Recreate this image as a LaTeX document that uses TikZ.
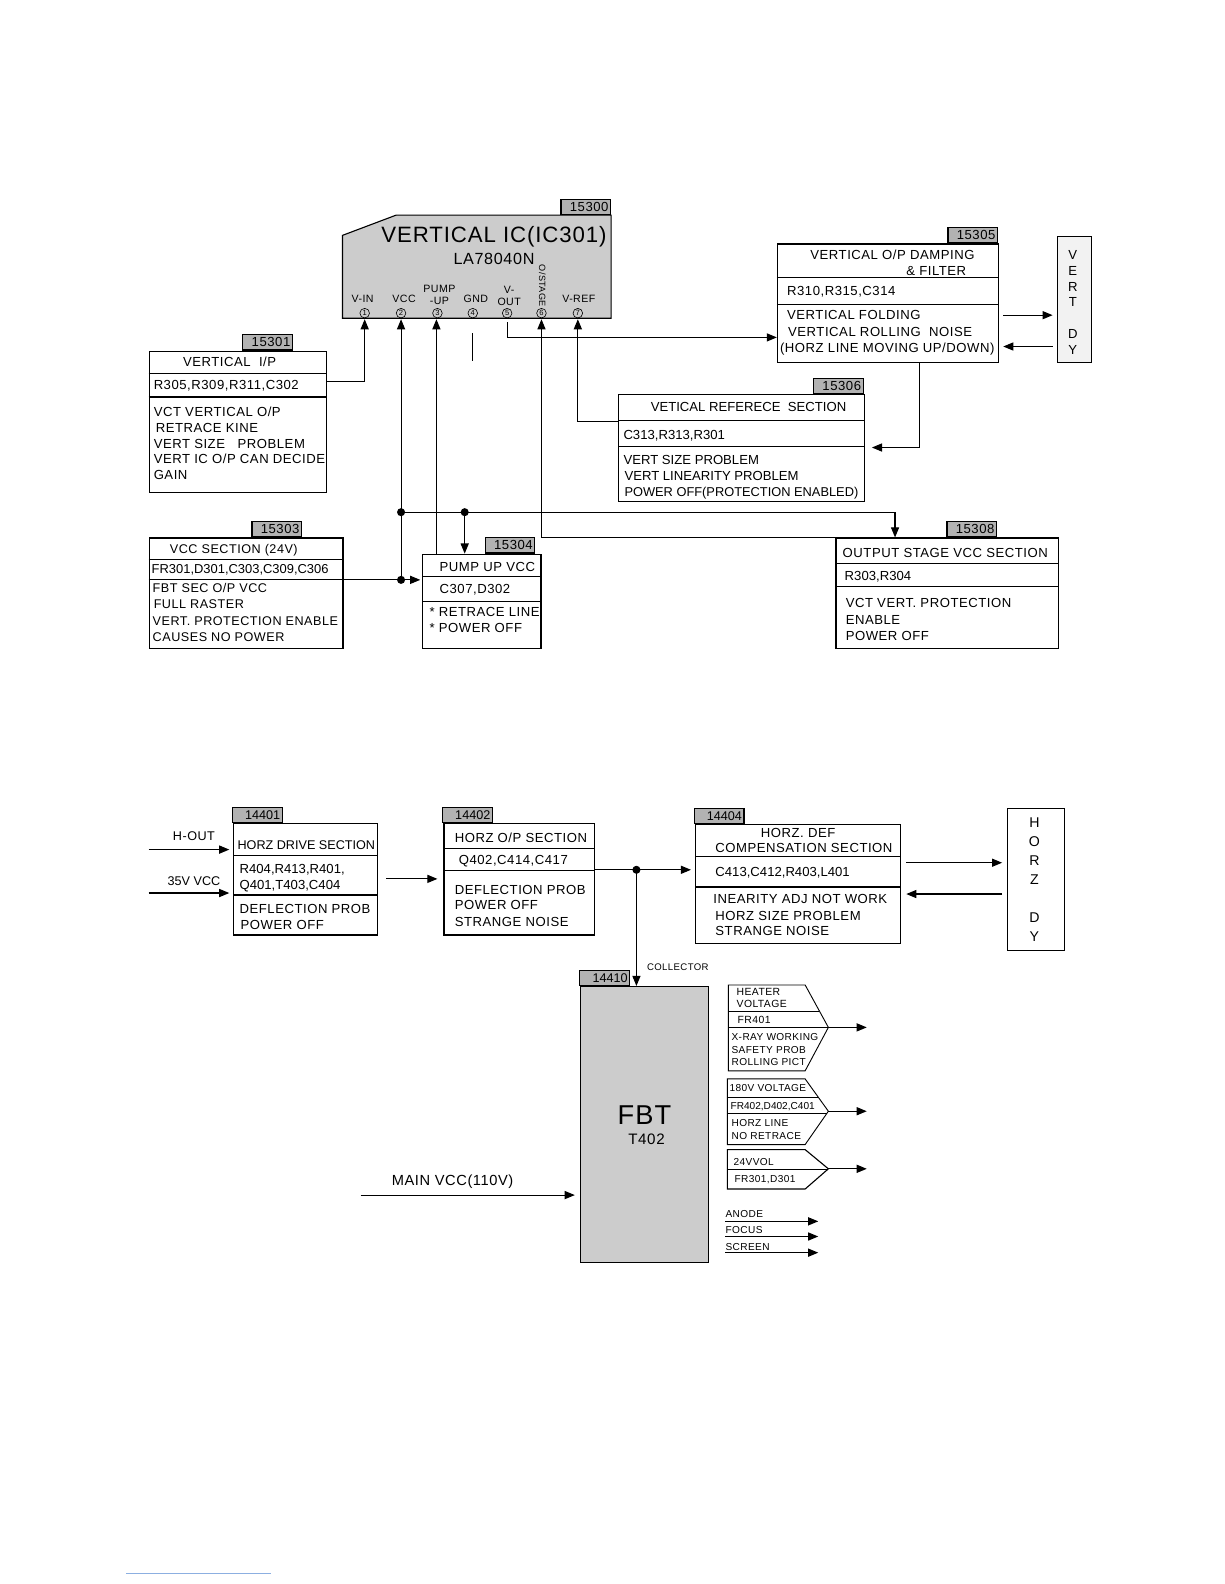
\documentclass[tikz,border=0pt]{standalone}
\usepackage{fontspec}
\setmainfont{Liberation Sans}[LetterSpace=4]
\newfontfamily\arfont{Liberation Sans}
\usetikzlibrary{arrows.meta,calc}
\definecolor{taggray}{RGB}{178,178,178}
\definecolor{icgray}{RGB}{204,204,204}
\definecolor{fbtgray}{RGB}{204,204,204}
\definecolor{dygray}{RGB}{242,242,242}
\definecolor{pageline}{RGB}{140,175,225}
\newcommand\Tl[4]{\node[txt] (#1) at (#2,#3) {#4};}
\newcommand\Ts[4]{\node[stx] (#1) at (#2,#3) {#4};}
\begin{document}
\begin{tikzpicture}[x=1pt,y=-1pt,
  bx/.style={draw, line width=1.1pt, inner sep=0pt, anchor=north west},
  tagbox/.style={draw, line width=1.2pt, fill=taggray, inner sep=0pt, anchor=south east, minimum width=49pt, minimum height=15pt, text width=45pt, align=right, font=\fontsize{13}{13}\selectfont},
  txt/.style={anchor=base west, inner sep=0pt, yshift=-4.7pt, font=\fontsize{13}{15}\selectfont},
  stx/.style={anchor=base west, inner sep=0pt, yshift=-3.7pt, font=\fontsize{10.3}{12}\selectfont},
  ln/.style={line width=1.1pt},
  arr/.style={line width=1.1pt, -{Triangle[length=10pt,width=8pt]}},
  dot/.style={circle, fill=black, inner sep=0pt, minimum size=8pt},
  pinl/.style={inner sep=0pt, font=\fontsize{10.5}{12}\selectfont, align=center},
  cnum/.style={circle, draw, line width=0.6pt, inner sep=0pt, minimum size=9.5pt, font=\arfont\fontsize{7.5}{7.5}\selectfont},
  dyl/.style={inner sep=0pt, font=\fontsize{13}{13}\selectfont},
]
\useasboundingbox (0,0) rectangle (1212,1568);

% ================= VERTICAL IC =================
\draw[ln, fill=icgray] (339,233) -- (392,213) -- (605,213) -- (605,315) -- (339,315) -- cycle;
\node[tagbox] (tg300) at (605,213) {15300};
\node[inner sep=0pt, font=\fontsize{22}{22}\selectfont] (ictitle) at (489,234) {VERTICAL IC(IC301)};
\node[inner sep=0pt, font=\fontsize{16}{16}\selectfont] (icpart) at (489,256) {LA78040N};
\node[pinl] (lvin) at (359,296) {V-IN};
\node[pinl] (lvcc) at (400,296) {VCC};
\node[pinl] (lpump) at (435,292) {PUMP\\-UP};
\node[pinl] (lgnd) at (471,296) {GND};
\node[pinl] (lvout) at (504,293) {V-\\OUT};
\node[pinl, rotate=-90, font=\fontsize{9}{9}\selectfont] (lost) at (537,283) {O/STAGE};
\node[pinl] (lvref) at (573,296) {V-REF};
\node[cnum] (n1) at (361,310) {1};
\node[cnum] (n2) at (397,310) {2};
\node[cnum] (n3) at (433,310) {3};
\node[cnum] (n4) at (468,310) {4};
\node[cnum] (n5) at (502,310) {5};
\node[cnum] (n6) at (536,310) {6};
\node[cnum] (n7) at (572,310) {7};
\coordinate (pin1) at (361,316);
\coordinate (pin2) at (397,316);
\coordinate (pin3) at (432,316);
\coordinate (pin4) at (468,330);
\coordinate (pin5) at (502,319);
\coordinate (pin6) at (536,316);
\coordinate (pin7) at (572,316);
\coordinate (gnd) at (468,357);

% ================= 15301 =================
\node[tagbox] (tg301) at (290,347) {15301};
\node[bx, minimum width=176pt, minimum height=140pt] (b15301) at (147,347) {};
\draw[ln] (147,370) -- (323,370) (147,393) -- (323,393);
\Tl{a1}{181}{358}{VERTICAL~ I/P}
\Tl{a2}{152}{381}{R305,R309,R311,C302}
\Tl{a3}{152}{408}{VCT VERTICAL O/P}
\Tl{a4}{154}{423}{RETRACE KINE}
\Tl{a5}{152}{439}{VERT SIZE~~ PROBLEM}
\Tl{a6}{152}{454}{VERT IC O/P CAN DECIDE}
\Tl{a7}{152}{470}{GAIN}

% ================= 15305 =================
\node[tagbox] (tg305) at (988,241) {15305};
\node[bx, minimum width=219pt, minimum height=117pt] (b15305) at (769,241) {};
\draw[ln] (769,275) -- (988,275) (769,301) -- (988,301);
\Tl{c1}{802}{252}{VERTICAL O/P DAMPING}
\Tl{c2}{897}{268}{\& FILTER}
\Tl{c3}{779}{288}{R310,R315,C314}
\Tl{c4}{779}{312}{VERTICAL FOLDING}
\Tl{c5}{780}{328}{VERTICAL ROLLING~ NOISE}
\Tl{c6}{772}{344}{(HORZ LINE MOVING UP/DOWN)}

% VERT DY
\node[bx, fill=dygray, line width=0.8pt, minimum width=34pt, minimum height=124pt] (vdy) at (1046,234) {};
\node[dyl] (v1) at (1062,252) {V};
\node[dyl] (v2) at (1062,268) {E};
\node[dyl] (v3) at (1062,284) {R};
\node[dyl] (v4) at (1062,299) {T};
\node[dyl] (v5) at (1062,331) {D};
\node[dyl] (v6) at (1062,346) {Y};

% ================= 15306 =================
\node[tagbox] (tg306) at (855,390) {15306};
\node[bx, minimum width=243pt, minimum height=106pt] (b15306) at (612,390) {};
\draw[ln] (612,416) -- (855,416) (612,442) -- (855,442);
\node[txt, font=\arfont\fontsize{13}{15}\selectfont] (e1) at (644,403) {VETICAL REFERECE~ SECTION};
\node[txt, font=\arfont\fontsize{13}{15}\selectfont] (e2) at (617,430) {C313,R313,R301};
\node[txt, font=\arfont\fontsize{13}{15}\selectfont] (e3) at (617,455) {VERT SIZE PROBLEM};
\node[txt, font=\arfont\fontsize{13}{15}\selectfont] (e4) at (618,471) {VERT LINEARITY PROBLEM};
\node[txt, font=\arfont\fontsize{12.7}{15}\selectfont] (e5) at (618,487) {POWER OFF(PROTECTION ENABLED)};

% ================= 15303 =================
\node[tagbox] (tg303) at (299,532) {15303};
\node[bx, minimum width=192pt, minimum height=109pt] (b15303) at (147,532) {};
\draw[ln] (147,554) -- (339,554) (147,574) -- (339,574);
\node[txt, font=\fontsize{12.5}{15}\selectfont] (f1) at (168,543) {VCC SECTION (24V)};
\node[txt, font=\arfont\fontsize{12.8}{15}\selectfont] (f2) at (150,563) {FR301,D301,C303,C309,C306};
\node[txt, font=\fontsize{12.5}{15}\selectfont] (f3) at (151,582) {FBT SEC O/P VCC};
\node[txt, font=\fontsize{12.5}{15}\selectfont] (f4) at (152,598) {FULL RASTER};
\node[txt, font=\fontsize{12.5}{15}\selectfont] (f5) at (151,614) {VERT. PROTECTION ENABLE};
\node[txt, font=\fontsize{12.5}{15}\selectfont] (f6) at (151,630) {CAUSES NO POWER};

% ================= 15304 =================
\node[tagbox] (tg304) at (530,548) {15304};
\node[bx, minimum width=117pt, minimum height=93pt] (b15304) at (418,548) {};
\draw[ln] (418,571) -- (535,571) (418,595) -- (535,595);
\Tl{g1}{435}{561}{PUMP UP VCC}
\Tl{g2}{435}{583}{C307,D302}
\Tl{g3}{425}{606}{* RETRACE LINE}
\Tl{g4}{425}{621}{* POWER OFF}

% ================= 15308 =================
\node[tagbox] (tg308) at (987,532) {15308};
\node[bx, minimum width=220pt, minimum height=109pt] (b15308) at (827,532) {};
\draw[ln] (827,558) -- (1047,558) (827,581) -- (1047,581);
\Tl{h1}{834}{547}{OUTPUT STAGE VCC SECTION}
\node[txt, font=\arfont\fontsize{13}{15}\selectfont] (h2) at (836,570) {R303,R304};
\Tl{h3}{837}{597}{VCT VERT. PROTECTION}
\Tl{h4}{837}{613}{ENABLE}
\Tl{h5}{837}{629}{POWER OFF}

% dots
\node[dot] (dA) at (397,507) {};
\node[dot] (dB) at (460,507) {};
\node[dot] (dC) at (397,574) {};

% ================= vertical connectors =================
\draw[arr] (b15301.east |- 0,378) -| (pin1);
\draw[arr] (dC.center) -- (pin2);
\draw[arr] (b15304.north -| pin3) -- (pin3);
\draw[ln] (pin4) -- (gnd);
\draw[arr] (pin5) |- (b15305.west |- 0,334);
\draw[arr] (b15308.north west) -| (pin6);
\draw[arr] (b15306.west |- 0,417) -| (pin7);
\draw[arr, shorten >=7pt] (b15305.south -| 910,0) |- (b15306.east |- 0,443);
\draw[arr, shorten <=4pt, shorten >=4pt] (b15305.east |- 0,312) -- (vdy.west |- 0,312);
\draw[arr, shorten <=4pt, shorten >=4pt] (vdy.west |- 0,343) -- (b15305.east |- 0,343);
\draw[ln] (dA.center) -- (dB.center);
\draw[arr] (dB.center) -| (b15308.north -| 886,0);
\draw[arr] (dB.center) -- (b15304.north -| dB);
\draw[arr, shorten >=2pt] (b15303.east |- 0,574) -- (b15304.west |- 0,574);

% ================= 14401 =================
\node[tagbox, font=\arfont\fontsize{12.5}{13}\selectfont] (tg401) at (280,815) {14401};
\node[bx, minimum width=142pt, minimum height=110pt] (b14401) at (231,815) {};
\draw[ln] (231,847) -- (373,847) (231,886) -- (373,886);
\node[txt, font=\arfont\fontsize{12.5}{15}\selectfont] (i1) at (235,836) {HORZ DRIVE SECTION};
\node[txt, font=\arfont\fontsize{13}{15}\selectfont] (i2) at (237,860) {R404,R413,R401,};
\node[txt, font=\arfont\fontsize{13}{15}\selectfont] (i3) at (237,876) {Q401,T403,C404};
\Tl{i4}{237}{900}{DEFLECTION PROB}
\Tl{i5}{238}{915}{POWER OFF}
\node[inner sep=0pt, font=\fontsize{12.5}{13}\selectfont] (hol) at (192,828) {H-OUT};
\node[inner sep=0pt, font=\arfont\fontsize{12.5}{13}\selectfont] (vvl) at (192,872) {35V VCC};
\coordinate (hin1) at (147,841);
\coordinate (hin2) at (147,884);
\draw[arr, shorten >=4pt] (hin1) -- (b14401.west |- 0,841);
\draw[arr, shorten >=4pt] (hin2) -- (b14401.west |- 0,884);

% ================= 14402 =================
\node[tagbox, font=\arfont\fontsize{12.5}{13}\selectfont] (tg402) at (488,815) {14402};
\node[bx, minimum width=149pt, minimum height=110pt] (b14402) at (439,815) {};
\draw[ln] (439,840) -- (588,840) (439,862) -- (588,862);
\Tl{j1}{450}{829}{HORZ O/P SECTION}
\Tl{j2}{454}{851}{Q402,C414,C417}
\Tl{j3}{450}{881}{DEFLECTION PROB}
\Tl{j4}{450}{896}{POWER OFF}
\Tl{j5}{450}{912}{STRANGE NOISE}
\draw[arr, shorten <=8pt, shorten >=6pt] (b14401.east |- 0,870) -- (b14402.west |- 0,870);

% ================= 14404 =================
\node[tagbox, font=\arfont\fontsize{12.5}{13}\selectfont] (tg404) at (737,816) {14404};
\node[bx, minimum width=203pt, minimum height=117pt] (b14404) at (688,816) {};
\draw[ln] (688,848) -- (891,848) (688,878) -- (891,878);
\Tl{k1}{753}{824}{HORZ. DEF}
\Tl{k2}{708}{839}{COMPENSATION SECTION}
\node[txt, font=\arfont\fontsize{13}{15}\selectfont] (k3) at (708,863) {C413,C412,R403,L401};
\Tl{k4}{706}{890}{INEARITY ADJ NOT WORK}
\Tl{k5}{708}{906}{HORZ SIZE PROBLEM}
\Tl{k6}{708}{921}{STRANGE NOISE}

% HORZ DY
\node[bx, line width=0.8pt, minimum width=56pt, minimum height=140pt] (hdy) at (997,800) {};
\node[dyl, font=\fontsize{14}{14}\selectfont] (w1) at (1024,814) {H};
\node[dyl, font=\fontsize{14}{14}\selectfont] (w2) at (1024,833) {O};
\node[dyl, font=\fontsize{14}{14}\selectfont] (w3) at (1024,852) {R};
\node[dyl, font=\fontsize{14}{14}\selectfont] (w4) at (1024,871) {Z};
\node[dyl, font=\fontsize{14}{14}\selectfont] (w5) at (1024,908) {D};
\node[dyl, font=\fontsize{14}{14}\selectfont] (w6) at (1024,927) {Y};
\draw[arr, shorten <=5pt, shorten >=5pt] (b14404.east |- 0,854) -- (hdy.west |- 0,854);
\draw[arr, shorten <=5pt, shorten >=5pt] (hdy.west |- 0,885) -- (b14404.east |- 0,885);

% ================= FBT =================
\node[bx, fill=fbtgray, minimum width=127pt, minimum height=273pt] (fbt) at (574,976) {};
\node[tagbox, font=\arfont\fontsize{12.5}{13}\selectfont, minimum width=50pt, text width=46pt] (tg410) at (624,976) {14410};
\node[inner sep=0pt, font=\fontsize{27}{27}\selectfont] (fbtl) at (638,1104) {FBT};
\node[inner sep=0pt, font=\fontsize{15}{15}\selectfont] (t402) at (640,1128) {T402};
\node[dot] (dD) at (630,861) {};
\draw[arr, shorten >=4pt] (b14402.east |- 0,861) -- (b14404.west |- 0,861);
\draw[arr] (dD.center) -- (fbt.north -| dD);
\node[inner sep=0pt, font=\fontsize{9.5}{10}\selectfont] (coll) at (671,957) {COLLECTOR};
\node[inner sep=0pt, font=\fontsize{14.5}{15}\selectfont] (mvl) at (448,1170) {MAIN VCC(110V)};
\coordinate (mv) at (357,1183);
\draw[arr, shorten >=5pt] (mv) -- (fbt.west |- 0,1183);

% output group 1
\draw[line width=0.9pt] (721,975) -- (797,975) -- (820,1017) -- (797,1060) -- (721,1060) -- cycle;
\draw[line width=0.9pt] (721,1001) -- (811,1001) (721,1017) -- (820,1017);
\Ts{m1}{729}{982}{HEATER}
\Ts{m2}{729}{994}{VOLTAGE}
\Ts{m3}{730}{1009}{FR401}
\node[stx, font=\fontsize{10}{12}\selectfont] (m4) at (724,1026) {X-RAY WORKING};
\node[stx, font=\fontsize{10}{12}\selectfont] (m5) at (724,1039) {SAFETY PROB};
\node[stx, font=\fontsize{10}{12}\selectfont] (m6) at (724,1051) {ROLLING PICT};
\coordinate (g1tip) at (820,1017);
\coordinate (o1) at (858,1017);
\draw[arr] (g1tip) -- (o1);

% output group 2
\draw[line width=0.9pt] (720,1068) -- (797,1068) -- (820,1100) -- (797,1133) -- (720,1133) -- cycle;
\draw[line width=0.9pt] (720,1086) -- (810,1086) (720,1102) -- (818.6,1102);
\node[stx, font=\fontsize{10}{12}\selectfont] (p1) at (722,1077) {180V VOLTAGE};
\node[stx, font=\arfont\fontsize{10}{12}\selectfont] (p2) at (723,1095) {FR402,D402,C401};
\node[stx, font=\fontsize{10}{12}\selectfont] (p3) at (724,1111) {HORZ LINE};
\node[stx, font=\fontsize{10}{12}\selectfont] (p4) at (724,1124) {NO RETRACE};
\coordinate (g2tip) at (820,1100);
\coordinate (o2) at (858,1100);
\draw[arr] (g2tip) -- (o2);

% output group 3
\draw[line width=1.1pt] (720,1138) -- (797,1138) -- (820,1157) -- (797,1177) -- (720,1177) -- cycle;
\draw[line width=0.9pt] (720,1158) -- (818.8,1158);
\node[stx, font=\fontsize{10}{12}\selectfont] (q1) at (726,1150) {24VVOL};
\node[stx, font=\fontsize{10}{12}\selectfont] (q2) at (727,1167) {FR301,D301};
\coordinate (g3tip) at (820,1157);
\coordinate (o3) at (858,1157);
\draw[arr] (g3tip) -- (o3);

% anode / focus / screen
\node[stx, font=\fontsize{10}{12}\selectfont] (r1) at (718,1201) {ANODE};
\node[stx, font=\fontsize{10}{12}\selectfont] (r2) at (718,1217) {FOCUS};
\node[stx, font=\fontsize{10}{12}\selectfont] (r3) at (718,1234) {SCREEN};
\coordinate (an0) at (718,1209); \coordinate (an1) at (810,1209);
\coordinate (fo0) at (718,1224); \coordinate (fo1) at (810,1224);
\coordinate (sc0) at (718,1240); \coordinate (sc1) at (810,1240);
\draw[arr] (an0) -- (an1);
\draw[arr] (fo0) -- (fo1);
\draw[arr] (sc0) -- (sc1);

% page footer rule
\draw[pageline, line width=1pt] (125,1558) -- (268,1558);
\end{tikzpicture}
\end{document}
